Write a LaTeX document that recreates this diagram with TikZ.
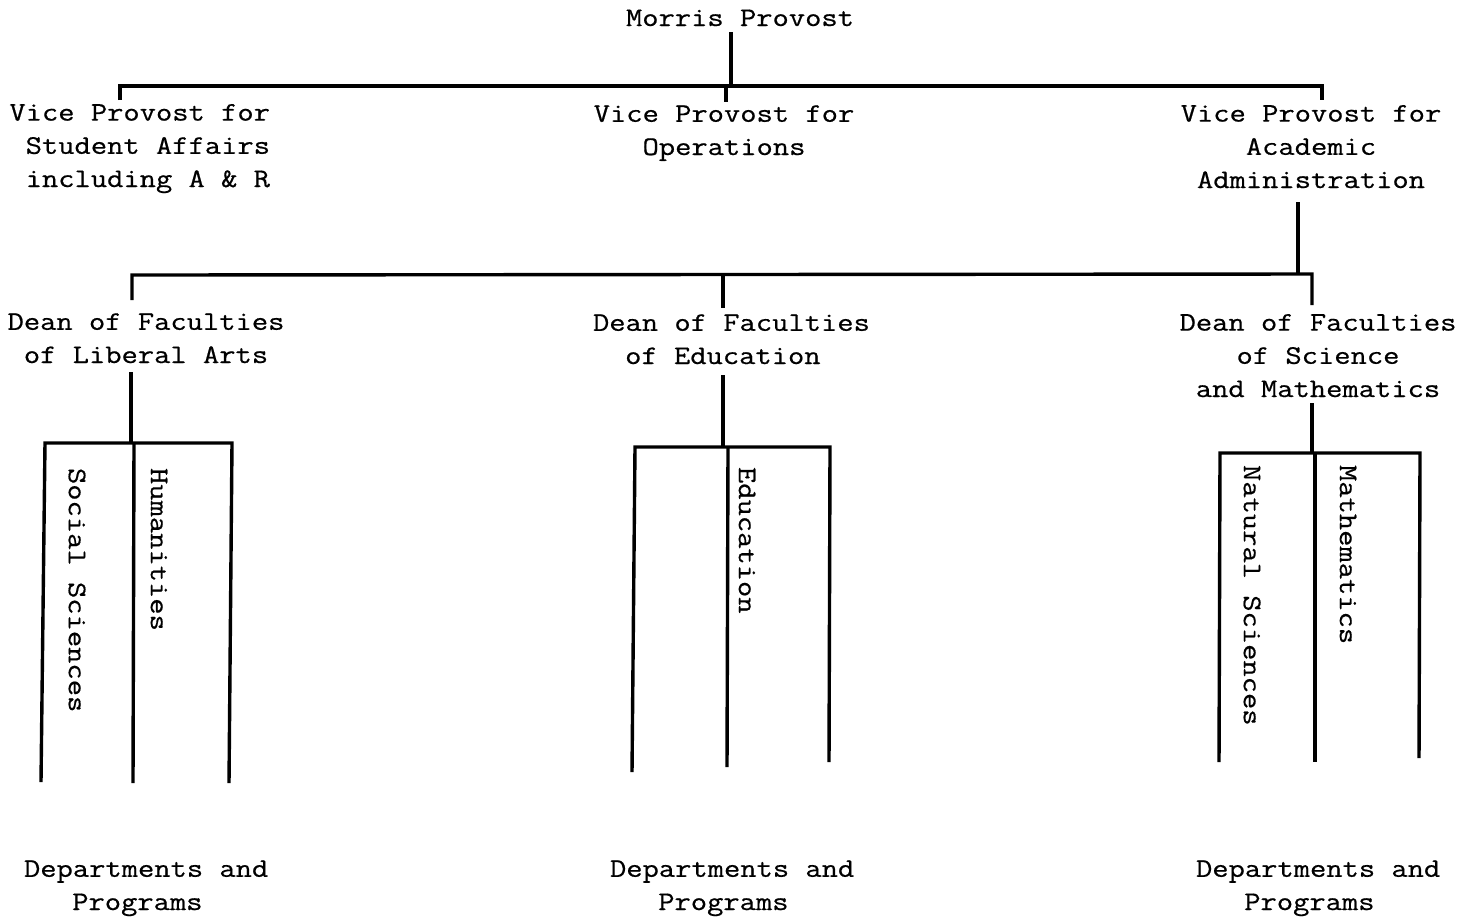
\documentclass[tikz,border=0pt]{standalone}
\usepackage{fontspec}
\newfontfamily\typewriter[FakeStretch=1.18,FakeBold=0.6]{Latin Modern Mono}
\begin{document}
\begin{tikzpicture}[x=0.5pt,y=-0.5pt,
  txt/.style={font=\typewriter\fontsize{13.4}{16.6}\selectfont, inner sep=0pt, outer sep=0pt},
  spine/.style={txt, rotate=-90, anchor=west},
  link/.style={line width=1.7pt, line join=miter}]
\useasboundingbox (0,0) rectangle (1465,918);

% ---------- top level (multi-line nodes are placed by their last baseline) ----------
\node[txt, anchor=base] (morris) at (740,26) {Morris Provost};

\node[txt, anchor=base east, align=right] (vpsa) at (270,187)
  {Vice Provost for\\Student Affairs\\including A \& R};
\node[txt, anchor=base, align=center] (vpops) at (724,155)
  {Vice Provost for\\Operations};
\node[txt, anchor=base, align=center] (vpaa) at (1311,188)
  {Vice Provost for\\Academic\\Administration};

\coordinate (m-down) at (731,32);
\coordinate (m-bar) at (731,86);
\coordinate (bar1-l) at (120,86);
\coordinate (bar1-r) at (1322,86);
\coordinate (vpsa-top) at (120,100);
\coordinate (vpaa-top) at (1322,100);
\coordinate (ops-bar) at (726,86);
\coordinate (ops-top) at (726,102);

\draw[link] (m-down) -- (m-bar);
\draw[link] (vpsa-top) -- (bar1-l) -- (bar1-r) -- (vpaa-top);
\draw[link] (ops-bar) -- (ops-top);

% ---------- deans ----------
\node[txt, anchor=base, align=center] (dla) at (146,363)
  {Dean of Faculties\\of Liberal Arts};
\node[txt, anchor=base west, align=left] (ded) at (593,364)
  {Dean of Faculties\\\hspace*{1.2em}of Education};
\node[txt, anchor=base, align=center] (dsm) at (1318,397)
  {Dean of Faculties\\of Science\\and Mathematics};

\coordinate (vpaa-down) at (1298,202);
\coordinate (bar2-m) at (1298,274);
\coordinate (bar2-l) at (132,275);
\coordinate (bar2-r) at (1312,274);
\coordinate (dla-top) at (132,300);
\coordinate (dsm-top) at (1312,305);
\coordinate (ded-bar) at (723,276);
\coordinate (ded-top) at (723,308);

\draw[link] (vpaa-down) -- (bar2-m);
\draw[link] (dla-top) -- (bar2-l) -- (bar2-r) -- (dsm-top);
\draw[link] (ded-bar) -- (ded-top);

% ---------- liberal arts divisions ----------
\coordinate (dla-down) at (131,372);
\coordinate (dla-bar) at (131,443);
\coordinate (la-m) at (134,443);
\coordinate (la-l) at (45,443);
\coordinate (la-r) at (232,443);
\coordinate (la-l-end) at (41,782);
\coordinate (la-m-end) at (133,783);
\coordinate (la-r-end) at (229,783);
\draw[link] (dla-down) -- (dla-bar);
\draw[link] (la-l-end) -- (la-l) -- (la-r) -- (la-r-end);
\draw[link] (la-m) -- (la-m-end);
\node[spine] (soc) at (77,468) {Social Sciences};
\node[spine] (hum) at (159,468) {Humanities};

% ---------- education divisions ----------
\coordinate (ded-down) at (723,375);
\coordinate (ded-bar2) at (723,447);
\coordinate (ed-m) at (728,447);
\coordinate (ed-l) at (635,447);
\coordinate (ed-r) at (830,447);
\coordinate (ed-l-end) at (632,772);
\coordinate (ed-m-end) at (727,767);
\coordinate (ed-r-end) at (829,762);
\draw[link] (ded-down) -- (ded-bar2);
\draw[link] (ed-l-end) -- (ed-l) -- (ed-r) -- (ed-r-end);
\draw[link] (ed-m) -- (ed-m-end);
\node[spine] (edu) at (747,467) {Education};

% ---------- science and mathematics divisions ----------
\coordinate (dsm-down) at (1312,403);
\coordinate (dsm-bar) at (1312,453);
\coordinate (sm-m) at (1315,453);
\coordinate (sm-l) at (1220,453);
\coordinate (sm-r) at (1420,453);
\coordinate (sm-l-end) at (1219,762);
\coordinate (sm-m-end) at (1315,762);
\coordinate (sm-r-end) at (1419,758);
\draw[link] (dsm-down) -- (dsm-bar);
\draw[link] (sm-l-end) -- (sm-l) -- (sm-r) -- (sm-r-end);
\draw[link] (sm-m) -- (sm-m-end);
\node[spine] (nat) at (1252,465) {Natural Sciences};
\node[spine] (math) at (1348,465) {Mathematics};

% ---------- departments ----------
\node[txt, anchor=base west, align=left] (dep1) at (24,910)
  {Departments and\\\hspace*{1.8em}Programs};
\node[txt, anchor=base west, align=left] (dep2) at (610,910)
  {Departments and\\\hspace*{1.8em}Programs};
\node[txt, anchor=base west, align=left] (dep3) at (1196,910)
  {Departments and\\\hspace*{1.8em}Programs};
\end{tikzpicture}
\end{document}
